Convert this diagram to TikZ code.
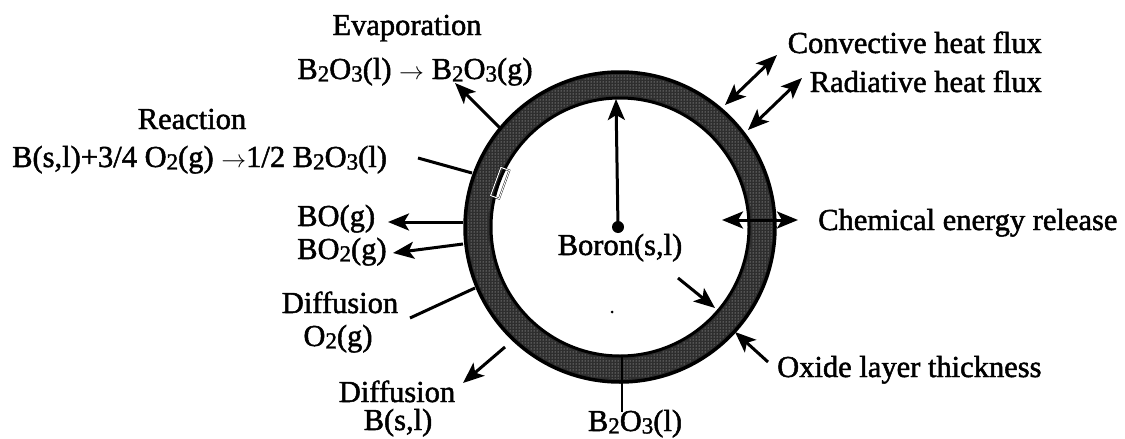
\documentclass[tikz,border=0pt]{standalone}
\usepackage{fontspec}
\setmainfont{Liberation Serif}[BoldFont=Liberation Serif, BoldFeatures={FakeBold=1.6}]
\usetikzlibrary{arrows.meta,patterns}
\newcommand\lowdig[1]{\raisebox{-0.08em}{\fontsize{23}{23}\selectfont #1}}
\begin{document}
\begin{tikzpicture}[x=1pt,y=-1pt,
  lbl/.style={inner sep=0pt, font=\fontsize{30.5}{34}\selectfont\bfseries},
  tip/.style={-{Stealth[length=21pt,width=17pt,inset=5pt]}},
  arr/.style={line width=3pt, tip},
  darr/.style={line width=3pt, {Stealth[length=21pt,width=17pt,inset=5pt]}-{Stealth[length=21pt,width=17pt,inset=5pt]}},
  ln/.style={line width=3pt},
  ringfill/.style={fill=black!82, even odd rule},
  ringdots/.style={pattern=dots, pattern color=white!85!black, even odd rule}]
\useasboundingbox (0,0) rectangle (1125,439);
% oxide ring
\coordinate (c) at (620,227);
\fill[ringfill] (c) circle[radius=155pt] (c) circle[radius=129pt];
\fill[ringdots] (c) circle[radius=152pt] (c) circle[radius=132pt];
\draw[line width=3.5pt] (c) circle[radius=155pt];
\draw[line width=3pt] (c) circle[radius=129pt];
% small reaction box on the ring
\node[draw=black, double=white, double distance=1pt, minimum width=9pt, minimum height=30pt, inner sep=0pt, rotate=-20] (box) at (500,183) {};
% texts
\node[lbl, anchor=base] (evap) at (407,35) {Evaporation};
\node[lbl, anchor=base] (evapeq) at (415,79) {B\lowdig{2}O\lowdig{3}(l) $\rightarrow$ B\lowdig{2}O\lowdig{3}(g)};
\node[lbl, anchor=base] (react) at (192,129) {Reaction};
\node[lbl, anchor=base west] (reacteq) at (12,167) {B(s,l)+3/4 O\lowdig{2}(g) $\rightarrow$1/2 B\lowdig{2}O\lowdig{3}(l)};
\node[lbl, anchor=base west] (bo) at (297,226) {BO(g)};
\node[lbl, anchor=base west] (bo2) at (297,259) {BO\lowdig{2}(g)};
\node[lbl, anchor=base] (diff1) at (340,313) {Diffusion};
\node[lbl, anchor=base] (o2) at (338,346) {O\lowdig{2}(g)};
\node[lbl, anchor=base] (diff2) at (397,402) {Diffusion};
\node[lbl, anchor=base] (bsl) at (398,430) {B(s,l)};
\node[lbl, anchor=base] (b2o3) at (635,431) {B\lowdig{2}O\lowdig{3}(l)};
\node[lbl, anchor=base] (boron) at (620,255) {Boron(s,l)};
\node[lbl, anchor=base west] (chem) at (818,230) {Chemical energy release};
\node[lbl, anchor=base east] (conv) at (1042,53) {Convective heat flux};
\node[lbl, anchor=base east] (rad) at (1042,92) {Radiative heat flux};
\node[lbl, anchor=base west] (oxide) at (777,377) {Oxide layer thickness};
% connector end points
\coordinate (evapA) at (500,128);  \coordinate (evapB) at (455,83);
\coordinate (reactA) at (418,158); \coordinate (reactB) at (472,173);
\coordinate (boA) at (463,222);    \coordinate (boB) at (388,222);
\coordinate (bo2A) at (463,244);   \coordinate (bo2B) at (393,253);
\coordinate (dfA) at (410,318);    \coordinate (dfB) at (475,288);
\coordinate (dbA) at (505,347);    \coordinate (dbB) at (463,383);
\coordinate (btA) at (622,357);    \coordinate (btB) at (622,412);
\coordinate (core) at (618,227);   \coordinate (coreTop) at (616,99);
\coordinate (thA) at (678,278);    \coordinate (thB) at (715,308);
\coordinate (oxA) at (768,362);    \coordinate (oxB) at (735,332);
\coordinate (chA) at (722,220);    \coordinate (chB) at (798,220);
\coordinate (cvA) at (725,105);    \coordinate (cvB) at (777,55);
\coordinate (rdA) at (748,130);    \coordinate (rdB) at (802,78);
% connectors
\draw[arr] (evapA) -- (evapB);
\draw[ln] (reactA) -- (reactB);
\draw[arr] (boA) -- (boB);
\draw[arr] (bo2A) -- (bo2B);
\draw[ln] (dfA) -- (dfB);
\draw[arr] (dbA) -- (dbB);
\draw[line width=2pt] (btA) -- (btB);
\fill (core) circle[radius=6pt];
\draw[arr] (core) -- (coreTop);
\fill (612,312) circle[radius=1.5pt];
\draw[arr] (thA) -- (thB);
\draw[arr] (oxA) -- (oxB);
\draw[darr] (chA) -- (chB);
\draw[darr] (cvA) -- (cvB);
\draw[darr] (rdA) -- (rdB);
\end{tikzpicture}
\end{document}
